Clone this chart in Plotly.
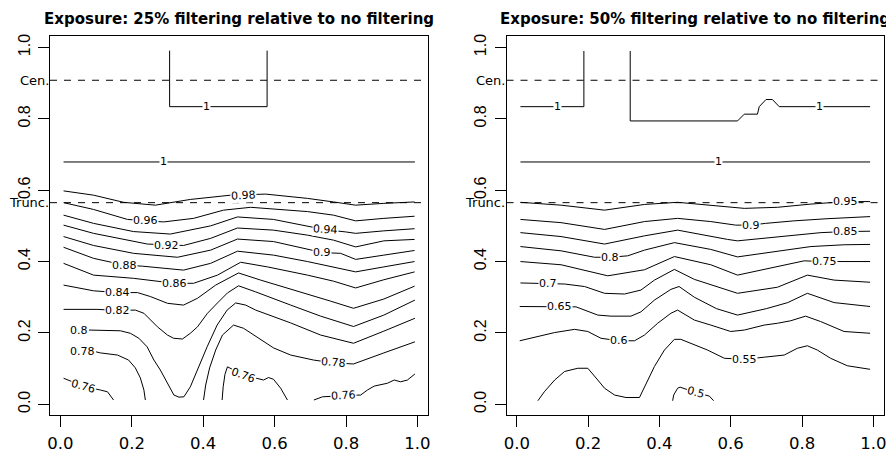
import plotly.graph_objects as go

# ---------------- data ----------------
TITLES = ["Exposure: 25% filtering relative to no filtering",
          "Exposure: 50% filtering relative to no filtering"]
CEN_Y = 0.908
TRUNC_Y = 0.565
TICKS = [0.0, 0.2, 0.4, 0.6, 0.8, 1.0]
TICK_TEXT = ["0.0", "0.2", "0.4", "0.6", "0.8", "1.0"]

# ---- left panel (25% filtering) contour lines ----
left_1_box_x = [0.306, 0.306, 0.579, 0.579]
left_1_box_y = [0.991, 0.834, 0.834, 0.991]
left_1_flat_x = [0.009, 0.993]
left_1_flat_y = [0.679, 0.679]
left_098_x = [0.009, 0.093, 0.177, 0.266, 0.364, 0.477, 0.575, 0.692, 0.765, 0.827, 0.906, 0.992]
left_098_y = [0.598, 0.586, 0.566, 0.558, 0.574, 0.586, 0.589, 0.577, 0.567, 0.558, 0.563, 0.567]
left_096_x = [0.009, 0.093, 0.188, 0.289, 0.373, 0.457, 0.533, 0.575, 0.692, 0.765, 0.827, 0.906, 0.992]
left_096_y = [0.565, 0.546, 0.518, 0.511, 0.521, 0.544, 0.552, 0.549, 0.540, 0.530, 0.514, 0.521, 0.527]
left_094_x = [0.009, 0.093, 0.205, 0.308, 0.421, 0.496, 0.597, 0.692, 0.743, 0.799, 0.827, 0.906, 0.992]
left_094_y = [0.530, 0.507, 0.484, 0.477, 0.500, 0.525, 0.518, 0.500, 0.489, 0.483, 0.479, 0.486, 0.492]
left_092_x = [0.009, 0.093, 0.244, 0.345, 0.421, 0.496, 0.597, 0.692, 0.765, 0.827, 0.906, 0.992]
left_092_y = [0.502, 0.479, 0.449, 0.445, 0.465, 0.494, 0.488, 0.474, 0.460, 0.441, 0.458, 0.462]
left_090_x = [0.009, 0.093, 0.205, 0.328, 0.421, 0.496, 0.597, 0.692, 0.735, 0.785, 0.827, 0.906, 0.992]
left_090_y = [0.470, 0.445, 0.423, 0.412, 0.432, 0.463, 0.456, 0.435, 0.425, 0.423, 0.406, 0.418, 0.431]
left_088_x = [0.009, 0.093, 0.179, 0.230, 0.345, 0.421, 0.496, 0.597, 0.692, 0.765, 0.827, 0.906, 0.992]
left_088_y = [0.440, 0.409, 0.390, 0.387, 0.376, 0.395, 0.429, 0.418, 0.400, 0.385, 0.371, 0.385, 0.400]
left_086_x = [0.009, 0.093, 0.205, 0.320, 0.373, 0.440, 0.505, 0.580, 0.692, 0.765, 0.827, 0.906, 0.992]
left_086_y = [0.395, 0.362, 0.353, 0.339, 0.339, 0.362, 0.398, 0.385, 0.362, 0.345, 0.326, 0.349, 0.371]
left_084_x = [0.009, 0.093, 0.160, 0.216, 0.252, 0.300, 0.345, 0.384, 0.435, 0.499, 0.561, 0.673, 0.757, 0.821, 0.906, 0.992]
left_084_y = [0.334, 0.318, 0.313, 0.313, 0.302, 0.283, 0.278, 0.297, 0.334, 0.368, 0.348, 0.315, 0.289, 0.269, 0.295, 0.331]
left_082_x = [0.009, 0.103, 0.159, 0.210, 0.234, 0.252, 0.272, 0.300, 0.317, 0.342, 0.364, 0.384, 0.412, 0.440,
              0.468, 0.499, 0.547, 0.645, 0.729, 0.821, 0.906, 0.993]
left_082_y = [0.266, 0.266, 0.263, 0.264, 0.255, 0.236, 0.217, 0.194, 0.185, 0.183, 0.199, 0.217, 0.255, 0.284,
              0.312, 0.332, 0.315, 0.278, 0.247, 0.218, 0.250, 0.292]
left_080_x = [0.080, 0.093, 0.168, 0.196, 0.220, 0.243, 0.262, 0.280, 0.299, 0.318, 0.332, 0.346, 0.364, 0.383,
              0.411, 0.439, 0.467, 0.491, 0.519, 0.547, 0.645, 0.729, 0.821, 0.906, 0.993]
left_080_y = [0.208, 0.208, 0.206, 0.199, 0.185, 0.161, 0.124, 0.096, 0.059, 0.026, 0.020, 0.021, 0.049, 0.096,
              0.161, 0.222, 0.264, 0.284, 0.278, 0.264, 0.228, 0.194, 0.171, 0.205, 0.241]
left_078a_x = [0.100, 0.112, 0.160, 0.191, 0.210, 0.224, 0.234, 0.238]
left_078a_y = [0.147, 0.144, 0.138, 0.124, 0.102, 0.074, 0.040, 0.012]
left_078b_x = [0.401, 0.407, 0.418, 0.435, 0.454, 0.485, 0.513, 0.541, 0.597, 0.645, 0.709, 0.765, 0.821, 0.906, 0.993]
left_078b_y = [0.012, 0.054, 0.102, 0.152, 0.194, 0.222, 0.213, 0.194, 0.158, 0.138, 0.124, 0.116, 0.113, 0.144, 0.175]
left_076a_x = [0.009, 0.064, 0.112, 0.132, 0.149]
left_076a_y = [0.073, 0.051, 0.040, 0.035, 0.012]
left_076b_x = [0.453, 0.456, 0.461, 0.468, 0.513, 0.569, 0.583, 0.597, 0.617, 0.636]
left_076b_y = [0.012, 0.049, 0.084, 0.105, 0.082, 0.068, 0.075, 0.070, 0.045, 0.012]
left_076c_x = [0.710, 0.734, 0.794, 0.841, 0.860, 0.879, 0.916, 0.935, 0.953, 0.972, 0.993]
left_076c_y = [0.012, 0.021, 0.024, 0.026, 0.040, 0.051, 0.059, 0.068, 0.063, 0.068, 0.085]

left_label_text = ["1", "1", "0.98", "0.96", "0.94", "0.92", "0.9", "0.88", "0.86", "0.84", "0.82",
                   "0.8", "0.78", "0.78", "0.76", "0.76", "0.76"]
left_label_x = [0.409, 0.290, 0.514, 0.238, 0.743, 0.296, 0.734, 0.179, 0.320, 0.159, 0.159,
                0.051, 0.061, 0.765, 0.065, 0.513, 0.794]
left_label_y = [0.834, 0.679, 0.586, 0.514, 0.489, 0.445, 0.425, 0.390, 0.339, 0.313, 0.263,
                0.208, 0.147, 0.116, 0.051, 0.082, 0.024]
left_label_angle = [0, 0, -3, 0, 3, 0, 0, 0, 0, 0, 0, 0, 0, 5, 15, 20, -3]

# ---- right panel (50% filtering) contour lines ----
right_1a_x = [0.010, 0.188, 0.188]
right_1a_y = [0.834, 0.834, 0.990]
right_1b_x = [0.318, 0.318, 0.619, 0.638, 0.675, 0.680, 0.699, 0.717, 0.736, 0.991]
right_1b_y = [0.990, 0.794, 0.794, 0.813, 0.813, 0.834, 0.854, 0.854, 0.834, 0.834]
right_1c_x = [0.010, 0.991]
right_1c_y = [0.679, 0.679]
right_095_x = [0.010, 0.124, 0.246, 0.358, 0.451, 0.544, 0.638, 0.731, 0.825, 0.922, 0.991]
right_095_y = [0.566, 0.558, 0.544, 0.560, 0.566, 0.558, 0.549, 0.552, 0.561, 0.568, 0.568]
right_090_x = [0.010, 0.124, 0.246, 0.358, 0.451, 0.544, 0.614, 0.656, 0.698, 0.777, 0.870, 0.991]
right_090_y = [0.518, 0.509, 0.490, 0.512, 0.521, 0.512, 0.502, 0.502, 0.507, 0.514, 0.520, 0.526]
right_085_x = [0.010, 0.124, 0.246, 0.358, 0.451, 0.498, 0.591, 0.619, 0.731, 0.853, 0.922, 0.991]
right_085_y = [0.481, 0.470, 0.449, 0.472, 0.488, 0.479, 0.462, 0.458, 0.470, 0.481, 0.484, 0.485]
right_080_x = [0.010, 0.124, 0.218, 0.261, 0.311, 0.358, 0.442, 0.544, 0.619, 0.731, 0.825, 0.918, 0.991]
right_080_y = [0.442, 0.430, 0.412, 0.412, 0.416, 0.432, 0.453, 0.434, 0.413, 0.428, 0.442, 0.447, 0.448]
right_075_x = [0.010, 0.124, 0.255, 0.358, 0.442, 0.544, 0.619, 0.731, 0.806, 0.862, 0.918, 0.991]
right_075_y = [0.400, 0.391, 0.360, 0.377, 0.414, 0.391, 0.362, 0.386, 0.402, 0.400, 0.400, 0.400]
right_070_x = [0.010, 0.087, 0.134, 0.190, 0.246, 0.302, 0.348, 0.386, 0.442, 0.498, 0.560, 0.619, 0.731,
               0.815, 0.890, 0.991]
right_070_y = [0.340, 0.339, 0.337, 0.330, 0.311, 0.309, 0.320, 0.348, 0.378, 0.350, 0.330, 0.311, 0.328,
               0.362, 0.348, 0.342]
right_065_x = [0.008, 0.120, 0.166, 0.227, 0.264, 0.320, 0.348, 0.386, 0.432, 0.455, 0.498, 0.560, 0.619,
               0.700, 0.760, 0.815, 0.890, 0.991]
right_065_y = [0.274, 0.274, 0.273, 0.250, 0.247, 0.247, 0.259, 0.292, 0.322, 0.330, 0.300, 0.268, 0.250,
               0.268, 0.285, 0.311, 0.285, 0.274]
right_060_x = [0.008, 0.059, 0.106, 0.162, 0.199, 0.236, 0.286, 0.330, 0.358, 0.395, 0.432, 0.451, 0.498,
               0.544, 0.600, 0.638, 0.694, 0.731, 0.768, 0.810, 0.852, 0.918, 0.991]
right_060_y = [0.178, 0.191, 0.201, 0.210, 0.204, 0.185, 0.178, 0.178, 0.194, 0.227, 0.255, 0.264, 0.236,
               0.222, 0.204, 0.208, 0.222, 0.227, 0.234, 0.247, 0.232, 0.204, 0.199]
right_055_x = [0.059, 0.077, 0.106, 0.134, 0.171, 0.199, 0.227, 0.246, 0.274, 0.306, 0.344, 0.358, 0.386,
               0.414, 0.442, 0.460, 0.488, 0.535, 0.582, 0.638, 0.694, 0.750, 0.787, 0.815, 0.843, 0.880,
               0.927, 0.991]
right_055_y = [0.010, 0.035, 0.068, 0.092, 0.101, 0.101, 0.068, 0.045, 0.026, 0.019, 0.019, 0.049, 0.106,
               0.152, 0.182, 0.182, 0.171, 0.152, 0.129, 0.126, 0.132, 0.138, 0.157, 0.164, 0.152, 0.129,
               0.108, 0.098]
right_050_x = [0.437, 0.440, 0.451, 0.458, 0.502, 0.540, 0.552]
right_050_y = [0.010, 0.026, 0.045, 0.048, 0.033, 0.023, 0.010]

right_label_text = ["1", "1", "1", "0.95", "0.9", "0.85", "0.8", "0.75", "0.7", "0.65", "0.6", "0.55", "0.5"]
right_label_x = [0.113, 0.848, 0.565, 0.922, 0.656, 0.922, 0.261, 0.862, 0.087, 0.120, 0.286, 0.638, 0.502]
right_label_y = [0.834, 0.834, 0.679, 0.568, 0.502, 0.484, 0.412, 0.400, 0.339, 0.274, 0.178, 0.126, 0.033]
right_label_angle = [0, 0, 0, 0, 0, 0, 0, 0, 0, 0, 0, 0, 15]

left_lines = [
    (left_1_box_x, left_1_box_y), (left_1_flat_x, left_1_flat_y),
    (left_098_x, left_098_y), (left_096_x, left_096_y), (left_094_x, left_094_y),
    (left_092_x, left_092_y), (left_090_x, left_090_y), (left_088_x, left_088_y),
    (left_086_x, left_086_y), (left_084_x, left_084_y), (left_082_x, left_082_y),
    (left_080_x, left_080_y), (left_078a_x, left_078a_y), (left_078b_x, left_078b_y),
    (left_076a_x, left_076a_y), (left_076b_x, left_076b_y), (left_076c_x, left_076c_y),
]
right_lines = [
    (right_1a_x, right_1a_y), (right_1b_x, right_1b_y), (right_1c_x, right_1c_y),
    (right_095_x, right_095_y), (right_090_x, right_090_y), (right_085_x, right_085_y),
    (right_080_x, right_080_y), (right_075_x, right_075_y), (right_070_x, right_070_y),
    (right_065_x, right_065_y), (right_060_x, right_060_y), (right_055_x, right_055_y),
    (right_050_x, right_050_y),
]

# ---------------- figure ----------------
FONT = "DejaVu Sans, Liberation Sans, Arial, sans-serif"
YFONT = "Liberation Sans, Arial, sans-serif"

fig = go.Figure()
for (xs, ys) in left_lines:
    fig.add_trace(go.Scatter(x=xs, y=ys, mode="lines", xaxis="x", yaxis="y",
                             line=dict(color="black", width=1), hoverinfo="skip", showlegend=False))
for (xs, ys) in right_lines:
    fig.add_trace(go.Scatter(x=xs, y=ys, mode="lines", xaxis="x2", yaxis="y2",
                             line=dict(color="black", width=1), hoverinfo="skip", showlegend=False))

annotations = []
for txt, lx, ly, ang in zip(left_label_text, left_label_x, left_label_y, left_label_angle):
    annotations.append(dict(x=lx, y=ly, xref="x", yref="y", text=txt, showarrow=False,
                            textangle=ang, bgcolor="white", borderpad=0,
                            font=dict(family=FONT, size=11, color="black")))
for txt, lx, ly, ang in zip(right_label_text, right_label_x, right_label_y, right_label_angle):
    annotations.append(dict(x=lx, y=ly, xref="x2", yref="y2", text=txt, showarrow=False,
                            textangle=ang, bgcolor="white", borderpad=0,
                            font=dict(family=FONT, size=11, color="black")))

shapes = []
for xr, yr, xd in [("x", "y", "x domain"), ("x2", "y2", "x2 domain")]:
    for yv in (CEN_Y, TRUNC_Y):
        shapes.append(dict(type="line", xref=xd, yref=yr, x0=0, x1=1, y0=yv, y1=yv,
                           line=dict(color="black", width=1, dash="7px,7px"), layer="below"))
    annotations.append(dict(x=0, y=CEN_Y, xref=xd, yref=yr, text="Cen.", showarrow=False,
                            xanchor="right", xshift=-0.5, borderpad=0,
                            font=dict(family=FONT, size=13, color="black")))
    annotations.append(dict(x=0, y=TRUNC_Y, xref=xd, yref=yr, text="Trunc.", showarrow=False,
                            xanchor="right", xshift=-0.5, borderpad=0,
                            font=dict(family=FONT, size=13, color="black")))

for title, yd in zip(TITLES, ["x domain", "x2 domain"]):
    annotations.append(dict(x=0.5, y=1, xref=yd, yref="paper", text="<b>" + title + "</b>",
                            showarrow=False, yanchor="middle", yshift=17, borderpad=0,
                            font=dict(family=FONT, size=15, color="black")))

xcommon = dict(range=[-0.029, 1.030], tickvals=TICKS, ticktext=TICK_TEXT, ticks="outside",
               ticklen=11, tickwidth=1, tickcolor="black", showline=True, mirror=True,
               linecolor="black", linewidth=1, showgrid=False, zeroline=False, automargin=False,
               ticklabelstandoff=2,
               tickfont=dict(family=FONT, size=16.5, color="black"))
ycommon = dict(range=[-0.030, 1.032], tickvals=TICKS, ticktext=TICK_TEXT, ticks="outside",
               ticklen=11, tickwidth=1, tickcolor="black", showline=True, mirror=True,
               linecolor="black", linewidth=1, showgrid=False, zeroline=False, tickangle=-90,
               automargin=False, ticklabelstandoff=2,
               tickfont=dict(family=YFONT, size=16, color="black"), domain=[0, 1])

# the page body adds an 8px offset, so the figure is 8px smaller on each side
fig.update_layout(
    width=886, height=446,
    margin=dict(l=42, r=10, t=28, b=39),
    paper_bgcolor="white", plot_bgcolor="white",
    xaxis=dict(domain=[0, 0.4534], anchor="y", **xcommon),
    yaxis=dict(anchor="x", **ycommon),
    xaxis2=dict(domain=[0.5474, 1.0], anchor="y2", **xcommon),
    yaxis2=dict(anchor="x2", **ycommon),
    annotations=annotations,
    shapes=shapes,
)

fig.write_html("out.html")
